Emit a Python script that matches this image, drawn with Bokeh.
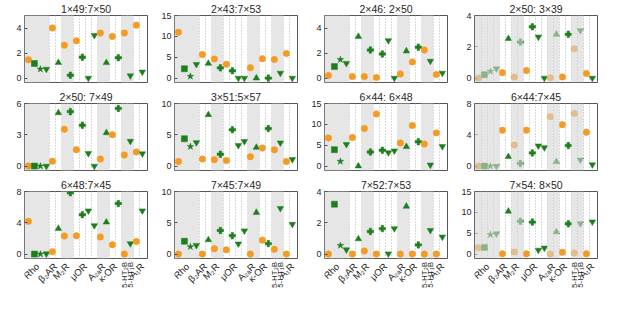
import math
from bokeh.plotting import figure
from bokeh.models import Range1d, FixedTicker, BoxAnnotation, ColumnDataSource
from bokeh.core.properties import value
from bokeh.layouts import gridplot
from bokeh.embed import file_html
from bokeh.resources import INLINE

# ---------------- data ----------------
TITLES = ["1×49:7×50", "2×43:7×53", "2×46: 2×50", "2×50: 3×39",
          "2×50: 7×49", "3×51:5×57", "6×44: 6×48", "6×44:7×45",
          "6×48:7×45", "7×45:7×49", "7×52:7×53", "7×54: 8×50"]

CATEGORIES = ["Rho", "β₂AR", "M₂R", "μOR", "A₂ₐR", "κ-OR", "5-HT₂B", "5-HT₁B", "A₁R"]
CATEGORY_POS = [2.5, 5.5, 7.5, 10.5, 13.5, 15.5, 17.0, 18.0, 20.0]

SLOTS = list(range(1, 21))

p1_vals = [1.47, 1.16, 0.72, 0.72, 4.0, 1.23, 2.63, 0.23, 2.98, 1.67,
           0.0, 3.42, 3.6, 1.23, 3.33, 1.63, 3.6, 0.19, 4.23, 0.49]
p2_vals = [11.0, 2.25, 0.42, 3.3, 5.63, 3.52, 4.58, 2.46, 3.3, 1.76,
           0.0, 0.0, 2.46, 0.0, 4.65, 0.0, 4.44, 1.2, 5.9, 0.0]
p3_vals = [0.21, 0.92, 1.48, 1.18, 0.12, 3.32, 0.12, 2.24, 0.05, 1.93,
           3.0, 0.0, 0.33, 2.16, 1.29, 2.47, 2.24, 1.36, 0.28, 0.4]
p4_vals = [0.0, 0.22, 0.43, 0.6, 0.35, 2.52, 0.07, 2.3, 0.48, 3.28,
           2.63, 0.0, 0.02, 2.8, 0.07, 2.8, 1.87, 3.04, 0.3, 0.0]
p5_vals = [0.0, 0.0, 0.0, 0.0, 0.47, 5.1, 3.53, 5.22, 1.58, 3.92,
           1.22, 0.0, 0.67, 3.19, 3.0, 5.53, 1.06, 2.39, 1.36, 1.19]
p6_vals = [0.74, 4.37, 3.12, 3.77, 1.12, 8.19, 1.02, 1.9, 0.88, 5.81,
           3.3, 3.95, 1.49, 2.98, 2.88, 6.0, 2.6, 3.72, 0.74, 1.07]
p7_vals = [6.76, 3.94, 1.13, 5.21, 6.83, 0.0, 9.0, 3.38, 12.46, 3.8,
           3.24, 3.66, 5.56, 4.65, 9.72, 5.85, 5.28, 0.28, 7.96, 4.72]
p8_vals = [0.0, 0.0, 0.0, 0.0, 4.59, 1.2, 2.7, 0.34, 4.59, 1.69,
           2.59, 2.37, 6.32, 0.56, 5.3, 2.63, 6.73, 0.79, 4.32, 0.19]
p9_vals = [4.19, 0.0, 0.0, 0.05, 0.31, 3.27, 2.31, 7.85, 2.35, 5.04,
           5.54, 3.65, 2.19, 4.08, 1.19, 6.46, 0.0, 1.35, 1.62, 5.54]
p10_vals = [0.0, 2.05, 1.18, 1.41, 0.0, 2.27, 0.86, 3.77, 0.68, 2.95,
            1.64, 3.73, 0.0, 6.64, 2.23, 1.68, 0.77, 7.32, 0.0, 4.77]
p11_vals = [0.0, 3.19, 0.55, 0.28, 0.0, 0.97, 0.2, 1.45, 0.0, 1.63,
            0.02, 1.63, 0.0, 3.05, 0.0, 0.59, 0.0, 1.52, 0.0, 1.1]
p12_vals = [1.53, 1.6, 4.67, 4.88, 0.07, 10.26, 0.49, 7.88, 0.07, 7.67,
            0.98, 1.47, 0.0, 5.3, 0.42, 7.26, 0.28, 7.33, 0.07, 7.74]

PANEL_VALUES = [p1_vals, p2_vals, p3_vals, p4_vals, p5_vals, p6_vals,
                p7_vals, p8_vals, p9_vals, p10_vals, p11_vals, p12_vals]

Y_MAX = [5, 15, 5, 4, 6, 10, 15, 8, 8, 10, 4, 15]
Y_TICKS = [[0, 2, 4], [0, 5, 10, 15], [0, 2, 4], [0, 2, 4],
           [0, 3, 6], [0, 5, 10], [0, 5, 10, 15], [0, 4, 8],
           [0, 4, 8], [0, 5, 10], [0, 2, 4], [0, 5, 10, 15]]

# ---------------- style ----------------
SLOT_MARKERS = ["circle", "square", "star", "inverted_triangle", "circle", "triangle",
                "circle", "plus", "circle", "plus", "inverted_triangle", "inverted_triangle",
                "circle", "triangle", "circle", "plus", "circle", "inverted_triangle",
                "circle", "inverted_triangle"]
ORANGE = "#f59a23"
GREEN = "#1e7e1e"
BAND_COLOR = "#e6e6e6"
BANDS = [(0.35, 4.5), (6.5, 8.5), (12.5, 14.5), (16.5, 18.5)]
BAND_ON_TOP = [False, False, False, True] * 3
FONT = "Liberation Sans"
TEXT_COLOR = "#262626"
X0, X1 = 0.35, 20.86
BORDER_L, BORDER_R = 24, 3

MARKER_SIZE = {"circle": 6.5, "square": 6, "star": 7, "inverted_triangle": 6.5,
               "triangle": 6.5, "plus": 6.5}

figs = []
for i, vals in enumerate(PANEL_VALUES):
    row = i // 4
    bottom = row == 2
    ymax = Y_MAX[i]
    y0 = -0.07 * ymax
    p = figure(width=150, height=84 if bottom else 88,
               output_backend="svg", toolbar_location=None,
               x_range=Range1d(X0, X1), y_range=Range1d(y0, ymax),
               min_border_left=BORDER_L, min_border_right=BORDER_R,
               min_border_top=0, min_border_bottom=2 if bottom else 6,
               title=TITLES[i])
    p.title.align = "center"
    p.title.text_font = FONT
    p.title.text_font_size = "10.5px"
    p.title.text_font_style = "normal"
    p.title.text_color = TEXT_COLOR
    p.title.offset = 0
    p.title.standoff = 1

    p.outline_line_color = "#555555"
    p.outline_line_width = 1
    p.outline_line_alpha = 1
    p.background_fill_color = "white"
    p.border_fill_color = "white"

    # dotted separators
    p.ygrid.visible = False
    p.xgrid.ticker = FixedTicker(ticks=[s + 0.5 for s in SLOTS[:-1]])
    p.xgrid.grid_line_color = "#b5b5b5"
    p.xgrid.grid_line_dash = "1 2"
    p.xgrid.grid_line_width = 1

    p.xaxis.visible = False
    p.yaxis.ticker = FixedTicker(ticks=Y_TICKS[i])
    p.yaxis.major_label_text_font = FONT
    p.yaxis.major_label_text_font_size = "9px"
    p.yaxis.major_label_text_color = TEXT_COLOR
    p.yaxis.axis_line_color = None
    p.yaxis.major_tick_in = 3
    p.yaxis.major_tick_out = 0
    p.yaxis.major_tick_line_color = "#555555"
    p.yaxis.minor_tick_line_color = None
    p.yaxis.major_label_standoff = 3

    on_top = BAND_ON_TOP[i]
    for (l, r) in BANDS:
        if on_top:
            p.add_layout(BoxAnnotation(left=l, right=r, fill_color="#d6d6d6",
                                       fill_alpha=0.6, line_color=None))
        else:
            p.add_layout(BoxAnnotation(left=l, right=r, fill_color=BAND_COLOR,
                                       fill_alpha=1.0, line_color=None, level="underlay"))

    colors = [ORANGE if m == "circle" else GREEN for m in SLOT_MARKERS]
    sizes = [MARKER_SIZE[m] for m in SLOT_MARKERS]
    src = ColumnDataSource(dict(x=SLOTS, y=vals, marker=SLOT_MARKERS,
                                color=colors, size=sizes))
    p.scatter("x", "y", marker="marker", size="size", fill_color="color",
              line_color="color", line_width=0.5, source=src)
    figs.append(p)

# label strips under the bottom row
strips = []
for j in range(4):
    s = figure(width=150, height=35, output_backend="svg", toolbar_location=None,
               x_range=Range1d(X0, X1), y_range=Range1d(0, 1),
               x_axis_location=None, y_axis_location=None,
               min_border_left=BORDER_L, min_border_right=BORDER_R,
               min_border_top=0, min_border_bottom=0)
    s.outline_line_color = None
    s.grid.visible = False
    angles = [math.pi / 2 if c.startswith("5-HT") else math.pi / 4 for c in CATEGORIES]
    fsizes = ["8px" if c.startswith("5-HT") else "9.5px" for c in CATEGORIES]
    ys = [0.96 if c.startswith("5-HT") else 0.88 for c in CATEGORIES]
    lsrc = ColumnDataSource(dict(x=CATEGORY_POS, y=ys,
                                 text=CATEGORIES, angle=angles, fs=fsizes))
    s.text("x", "y", text="text", angle="angle", source=lsrc,
           text_align="right", text_baseline="middle",
           text_font=value(FONT), text_font_size="fs", text_color=TEXT_COLOR)
    strips.append(s)

grid = gridplot([figs[0:4], figs[4:8], figs[8:12], strips], toolbar_location=None)

open("out.html", "w").write(file_html(grid, INLINE))
